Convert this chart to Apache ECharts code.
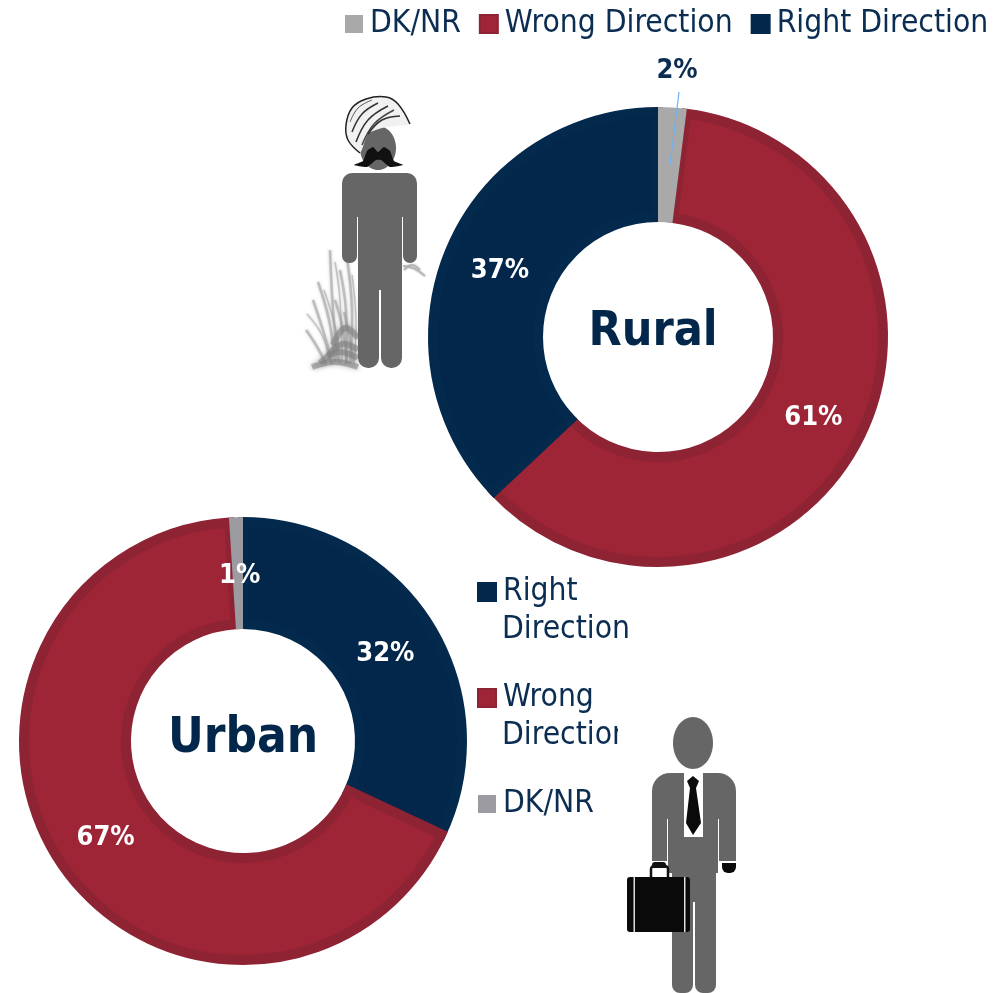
<!DOCTYPE html>
<html><head><meta charset="utf-8">
<style>html,body{margin:0;padding:0;background:#fff}#c{width:994px;height:993px}</style>
<script src="https://cdn.jsdelivr.net/npm/echarts@6/dist/echarts.min.js"></script>
</head><body><div id="c"></div>
<script>
const ruralNames = ['DK/NR', 'Wrong Direction', 'Right Direction'];
const ruralValues = [2, 61, 37];
const urbanNames = ['Right Direction', 'Wrong Direction', 'DK/NR'];
const urbanValues = [32, 67, 1];
const NAVY = '#02274a', RED = '#9e2536', REDEDGE = '#8e2334', NAVYEDGE = '#03294d';
const GRAY_R = '#a9a9a9', GRAY_U = '#9b9ba1', TXT = '#0b2d52';
const FONT = 'DejaVu Sans Condensed';
const LABELFONT = 'DejaVu Sans Condensed';

function fill(n, gray) { return n === 'DK/NR' ? gray : n[0] === 'W' ? RED : NAVY; }
function edge(n) { return n[0] === 'W' ? REDEDGE : NAVYEDGE; }

function layers(id, names, values, center, r0, r1, gray, outerLabelPos, nudges) {
  const base = {
    type: 'pie', center, silent: true, animation: false, startAngle: 90, clockwise: true,
    minAngle: 0, avoidLabelOverlap: false, labelLine: { show: false }
  };
  return [
    Object.assign({}, base, {
      name: id + '-edge', radius: [r0 + 5, r1 - 5], label: { show: false },
      data: names.map((n, i) => ({
        name: n, value: values[i],
        itemStyle: n === 'DK/NR' ? { color: 'transparent' } :
          { color: fill(n, gray), borderColor: edge(n), borderWidth: 10, borderJoin: 'miter' }
      }))
    }),
    Object.assign({}, base, {
      name: id, radius: [r0, r1],
      label: {
        show: true, position: 'inside', formatter: '{c}%', color: '#fff',
        fontFamily: LABELFONT, fontWeight: 'bold', fontSize: 27
      },
      labelLayout: p => {
        const n = names[p.dataIndex];
        if (outerLabelPos && n === 'DK/NR') {
          return { x: outerLabelPos[0], y: outerLabelPos[1], align: 'center', verticalAlign: 'middle' };
        }
        const d = nudges[n] || [0, 0];
        return { dx: d[0], dy: d[1] };
      },
      data: names.map((n, i) => ({
        name: n, value: values[i],
        itemStyle: { color: n === 'DK/NR' ? gray : 'transparent' },
        label: (outerLabelPos && n === 'DK/NR') ? { color: TXT } : {}
      }))
    })
  ];
}

const G = '#666666';
const rect = (x, y, w, h, c, r, z) => ({ type: 'rect', z: z || 5, shape: { x, y, width: w, height: h, r: r || 0 }, style: { fill: c } });
const ell = (cx, cy, rx, ry, c, z) => ({ type: 'ellipse', z: z || 5, shape: { cx, cy, rx, ry }, style: { fill: c } });
const poly = (pts, c, z, smooth) => ({ type: 'polygon', z: z || 5, shape: { points: pts, smooth: smooth || 0 }, style: { fill: c } });
const pl = (pts, c, w, op, z, blur) => ({ type: 'polyline', z: z || 5, shape: { points: pts, smooth: 0.4 }, style: { stroke: c, lineWidth: w, opacity: op === undefined ? 1 : op, fill: null, shadowBlur: blur || 0, shadowColor: c } });

const sikh = [
  // grass
  ...[[[330,362],[322,335],[307,314]], [[335,362],[329,320],[318,282]], [[338,362],[333,310],[330,250]], [[342,362],[340,300],[335,262]],
      [[346,364],[346,310],[340,270]], [[350,364],[352,310],[347,258]], [[354,364],[356,320],[352,275]], [[326,364],[316,345],[306,330]],
      [[332,364],[326,340],[313,300]], [[340,364],[336,330],[324,290]], [[347,364],[343,330],[335,300]], [[353,362],[349,335],[344,312]]]
    .map((p, i) => pl(p, '#9a9a9a', i % 3 === 0 ? 1.5 : 2.5, 0.5, 3, 3)),
  ...[[[312,367],[335,362],[358,367]], [[320,363],[338,352],[358,358]], [[328,356],[342,344],[358,350]], [[333,345],[345,328],[358,338]]]
    .map(p => pl(p, '#808080', 6, 0.55, 3, 5)),
  ...[[[403,266],[413,268],[425,276]], [[404,270],[412,265],[420,270]]].map(p => pl(p, '#aaa', 2, 0.7, 3, 2)),
  // body
  rect(342, 173, 75, 44, G, [10, 10, 0, 0]),
  rect(342, 212, 15, 51, G, [0, 0, 7, 7]),
  rect(403, 212, 14, 51, G, [0, 0, 7, 7]),
  rect(358, 205, 44, 85, G),
  rect(358, 280, 21, 88, G, [0, 0, 10, 10]),
  rect(381, 280, 21, 88, G, [0, 0, 10, 10]),
  // head, turban, moustache
  ell(378, 148, 18, 22, G),
  poly([[346,128],[351,110],[365,99],[385,97],[398,104],[410,124],[396,126],[382,128],[368,134],[360,153],[352,145]], '#f1f1f1', 6, 0.25),
  pl([[360,153],[348,140],[346,125],[352,108],[366,99],[386,97],[398,104],[410,124]], '#222', 1.5, 1, 7),
  pl([[352,132],[362,114],[378,103]], '#333', 1.5, 1, 7),
  pl([[356,142],[368,120],[388,106]], '#333', 1.5, 1, 7),
  pl([[362,145],[374,124],[394,110]], '#444', 1.5, 1, 7),
  pl([[368,134],[382,120],[400,116]], '#333', 1.5, 1, 7),
  pl([[350,122],[358,108],[372,100]], '#555', 1, 1, 7),
  poly([[354,165],[363,161],[367,151],[373,147],[378,152],[384,147],[390,151],[394,161],[403,165],[390,167],[381,160],[376,160],[367,167]], '#111', 7, 0.15)
];

const man = [
  ell(693, 743, 20, 26, G),
  rect(652, 773, 84, 46, G, [18, 18, 0, 0]),
  rect(652, 815, 15, 46, G),
  rect(719, 815, 17, 46, G),
  rect(668, 790, 50, 83, G),
  rect(672, 870, 21, 123, G, [0, 0, 8, 8]),
  rect(695, 870, 21, 123, G, [0, 0, 8, 8]),
  rect(693, 870, 2, 32, G),
  poly([[684,773],[703,773],[703,837],[684,837]], '#fff', 6),
  poly([[693,776],[699,781],[696,788],[701,823],[693,835],[686,823],[690,788],[687,781]], '#0a0a0a', 7),
  rect(722, 863, 14, 10, '#0a0a0a', [0, 0, 6, 6]),
  { type: 'rect', z: 6, shape: { x: 651, y: 866, width: 17, height: 14, r: 3 }, style: { fill: null, stroke: '#111', lineWidth: 2.5 } },
  rect(652, 862, 14, 6, '#111', [3, 3, 0, 0], 7),
  rect(627, 877, 63, 55, '#0a0a0a', 3, 7),
  rect(633.5, 877, 1.5, 55, '#ddd', 0, 8),
  rect(684, 877, 1.5, 55, '#ddd', 0, 8)
];

const texts = [
  { type: 'text', z: 20, style: { text: 'Direction', x: 502, y: 630, fill: TXT, font: '31.5px "' + FONT + '"', textVerticalAlign: 'middle' } },
  { type: 'text', z: 20, style: { text: 'Direction', x: 502, y: 736, fill: TXT, font: '31.5px "' + FONT + '"', textVerticalAlign: 'middle' } },
  rect(618, 715, 22, 42, '#fff', 0, 21),
  { type: 'line', z: 20, shape: { x1: 679, y1: 92, x2: 670, y2: 165 }, style: { stroke: '#6db3f2', lineWidth: 1.2 } },
  { type: 'text', z: 20, style: { text: 'Rural', x: 653, y: 333, fill: NAVY, font: 'bold 48px "' + LABELFONT + '"', textAlign: 'center', textVerticalAlign: 'middle' } },
  { type: 'text', z: 20, style: { text: 'Urban', x: 243, y: 739, fill: NAVY, font: 'bold 49px "' + LABELFONT + '"', textAlign: 'center', textVerticalAlign: 'middle' } }
];

const chart = echarts.init(document.getElementById('c'));
chart.setOption({
  animation: false,
  backgroundColor: '#fff',
  legend: [
    {
      left: 345, top: 8, orient: 'horizontal', selectedMode: false, itemWidth: 18, itemHeight: 18, itemGap: 18,
      padding: 0,
      textStyle: { color: TXT, fontFamily: FONT, fontSize: 31.5, padding: [0, 0, 0, 2] },
      icon: 'rect',
      data: [
        { name: 'DK/NR', itemStyle: { color: GRAY_R } },
        { name: 'Wrong Direction', itemStyle: { color: RED } },
        { name: 'Right Direction', itemStyle: { color: NAVY } }
      ]
    },
    {
      left: 477, top: 576, orient: 'vertical', selectedMode: false, itemWidth: 18, itemHeight: 18, itemGap: 74,
      padding: 0, icon: 'rect',
      formatter: n => n.split(' ')[0],
      textStyle: { color: TXT, fontFamily: FONT, fontSize: 31.5, padding: [0, 0, 0, 2] },
      data: [
        { name: 'Right Direction', itemStyle: { color: NAVY } },
        { name: 'Wrong Direction', itemStyle: { color: RED } },
        { name: 'DK/NR', itemStyle: { color: GRAY_U } }
      ]
    }
  ],
  graphic: { elements: [...sikh, ...man, ...texts] },
  series: [
    ...layers('Rural', ruralNames, ruralValues, [658, 337], 115, 230, GRAY_R, [677, 71],
      { 'Right Direction': [3, 4], 'Wrong Direction': [-1, 1] }),
    ...layers('Urban', urbanNames, urbanValues, [243, 741], 112, 224, GRAY_U, null,
      { 'Right Direction': [-2, 5], 'Wrong Direction': [4, 1], 'DK/NR': [2, 6] })
  ]
});
</script></body></html>
